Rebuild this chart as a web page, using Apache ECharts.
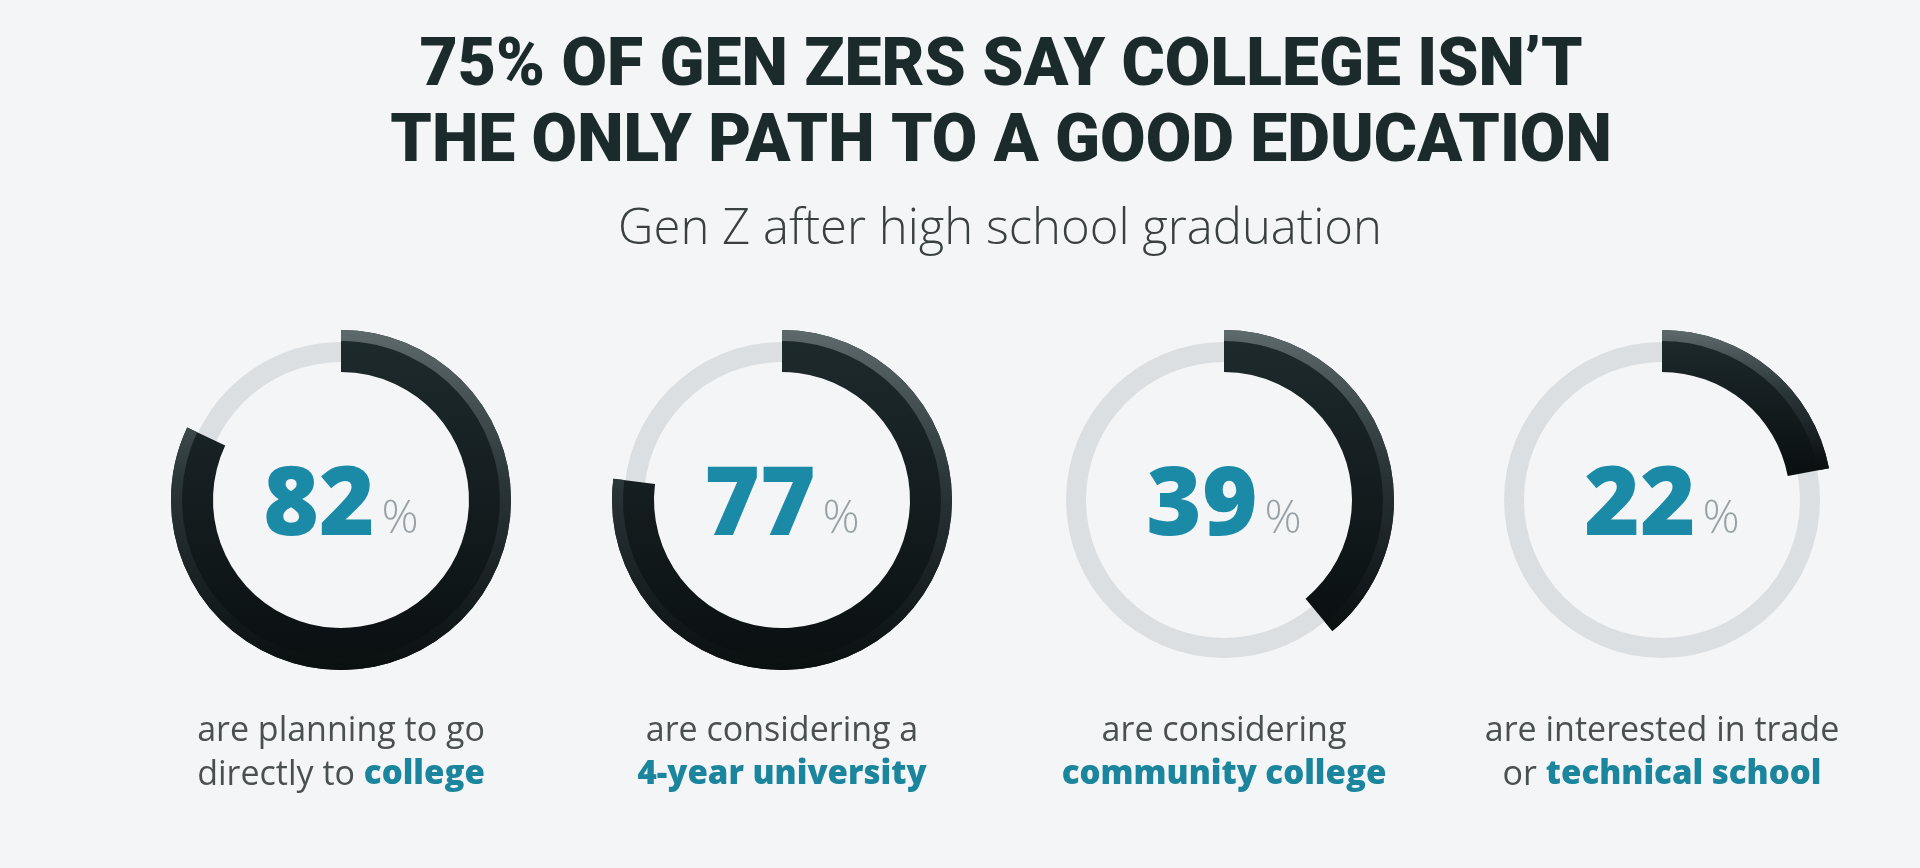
<!DOCTYPE html>
<html>
<head>
<meta charset="utf-8">
<script src="https://cdn.jsdelivr.net/npm/echarts@6/dist/echarts.min.js"></script>
<style>
html,body{margin:0;padding:0;background:#f4f5f7;}
#c{width:1920px;height:868px;}
</style>
</head>
<body>
<div id="c"></div>
<script>
// ---- data ----
const titleLines = ["75% OF GEN ZERS SAY COLLEGE ISN\u2019T", "THE ONLY PATH TO A GOOD EDUCATION"];
const subtitle = "Gen Z after high school graduation";
const values = [82, 77, 39, 22];
const captionLine1 = ["are planning to go", "are considering a", "are considering", "are interested in trade"];
const captionLead2 = ["directly to ", "", "", "or "];
const captionBold = ["college", "4-year university", "community college", "technical school"];

// ---- layout ----
const centersX = [341, 782, 1224, 1662];
const centerY = 500;

const chart = echarts.init(document.getElementById('c'));
const series = [];
values.forEach((v, i) => {
  const c = [centersX[i], centerY];
  series.push({
    type: 'pie', silent: true, center: c, radius: [138, 158], startAngle: 90,
    label: {show: false}, labelLine: {show: false},
    data: [{value: 100, itemStyle: {color: '#dcdfe2'}}]
  });
  series.push({
    type: 'pie', silent: true, center: c, radius: [128, 170], startAngle: 90, clockwise: true,
    labelLine: {show: false},
    data: [
      {value: v, itemStyle: {color: new echarts.graphic.LinearGradient(0, 0, 0, 1, [
        {offset: 0, color: '#1e2b2d'}, {offset: 1, color: '#0a0f10'}])},
        label: {show: true, position: 'center', formatter: '{n|' + v + '}{p|%}',
          rich: {
            n: {fontFamily: 'Open Sans', fontWeight: 800, fontSize: 95, color: '#1a8aa6', lineHeight: 120, verticalAlign: 'bottom', padding: [0, 7, 5, 0]},
            p: {fontFamily: 'Open Sans', fontWeight: 300, fontSize: 46, color: '#98a2a6', lineHeight: 120, verticalAlign: 'bottom', padding: [0, 0, 17, 0]}
          }}},
      {value: 100 - v, itemStyle: {color: 'rgba(0,0,0,0)'}, label: {show: false}}
    ]
  });
  series.push({
    type: 'pie', silent: true, center: c, radius: [159, 170], startAngle: 90, clockwise: true,
    label: {show: false}, labelLine: {show: false},
    data: [
      {value: v, itemStyle: {color: new echarts.graphic.LinearGradient(0, 0, 0, 1, [
        {offset: 0, color: '#5e696b'}, {offset: 0.45, color: '#2a3537'}, {offset: 1, color: '#0a0f10'}])}},
      {value: 100 - v, itemStyle: {color: 'rgba(0,0,0,0)'}}
    ]
  });
});

const graphics = [
  {type: 'text', x: 1001, y: 106, style: {text: titleLines.join('\n'), align: 'center', verticalAlign: 'middle',
    font: '900 66px Roboto', fill: '#1b2a2a', lineHeight: 76}},
  {type: 'text', x: 1000, y: 230, style: {text: subtitle, align: 'center', verticalAlign: 'middle',
    font: '300 49px "Open Sans"', fill: '#3a4042'}}
];
values.forEach((v, i) => {
  graphics.push({type: 'text', x: centersX[i], y: 753, style: {
    text: '{n|' + captionLine1[i] + '}\n{n|' + captionLead2[i] + '}{b|' + captionBold[i] + '}',
    align: 'center', verticalAlign: 'middle',
    rich: {
      n: {fontFamily: 'Open Sans', fontWeight: 400, fontSize: 34, fill: '#4a5052', lineHeight: 44},
      b: {fontFamily: 'Open Sans', fontWeight: 800, fontSize: 33, fill: '#1a859c', lineHeight: 44}
    }}});
});

chart.setOption({
  backgroundColor: '#f4f5f7',
  animation: false,
  series: series,
  graphic: graphics
});
</script>
</body>
</html>
